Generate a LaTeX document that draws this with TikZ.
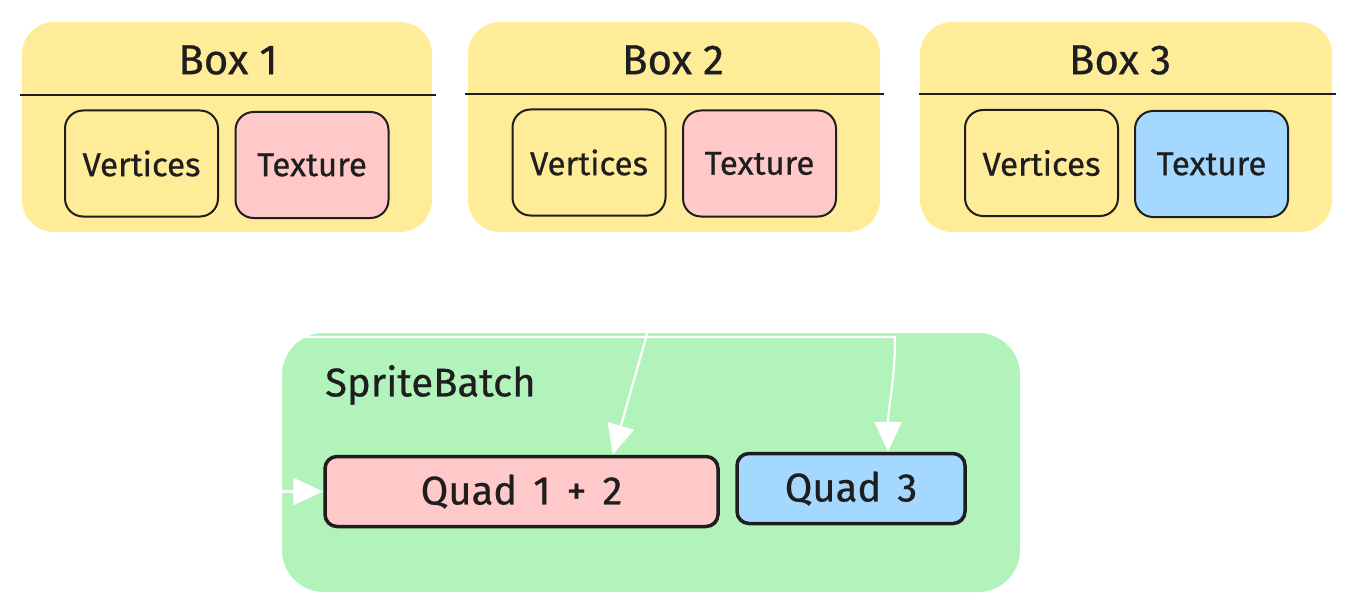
\documentclass[tikz,border=0pt]{standalone}
\usepackage{fontspec}
\setmainfont{Fira Sans}[FakeBold=0.6]
\usetikzlibrary{arrows.meta,calc}
\definecolor{ybox}{HTML}{FFEC99}
\definecolor{pinkf}{HTML}{FFC9C9}
\definecolor{bluef}{HTML}{A5D8FF}
\definecolor{greenf}{HTML}{B2F2BB}
\definecolor{ink}{HTML}{1E1E1E}
\tikzset{
  outerbox/.style={rectangle, fill=ybox, rounded corners=32pt, minimum width=410pt, minimum height=210pt, inner sep=0pt},
  titletext/.style={font=\fontsize{42}{48}\selectfont, text=ink, inner sep=0pt},
  sepline/.style={draw=ink, line width=1.6pt},
  itembox/.style={rectangle, draw=ink, line width=2pt, rounded corners=18pt, minimum width=153pt, minimum height=106pt, inner sep=0pt, font=\fontsize{33}{38}\selectfont, text=ink},
  quadbox/.style={rectangle, draw=ink, line width=3.5pt, rounded corners=12pt, minimum height=70pt, inner sep=0pt, font=\fontsize{40}{46}\selectfont, text=ink},
  wire/.style={draw=white, line width=2.2pt, -{Triangle[length=30pt,width=27pt,fill=white]}}
}
\begin{document}
\begin{tikzpicture}[x=1pt,y=-1pt]
\useasboundingbox (0,0) rectangle (1355,615);
% top boxes
\node[outerbox] (box1) at (227,127) {};
\node[outerbox, minimum width=412pt] (box2) at (674,127) {};
\node[outerbox, minimum width=412pt] (box3) at (1126,127) {};
\node[titletext] (t1) at (228,60) {Box 1};
\node[titletext] (t2) at (673,60) {Box 2};
\node[titletext] (t3) at (1120,60) {Box 3};
\draw[sepline] (20,95) -- (436,95);
\draw[sepline] (465,94) -- (884,94);
\draw[sepline] (919,94) -- (1336,94);
\node[itembox, fill=ybox] (v1) at (141.5,163.5) {Vertices};
\node[itembox, fill=pinkf] (x1) at (312,165) {Texture};
\node[itembox, fill=ybox] (v2) at (589,162.5) {Vertices};
\node[itembox, fill=pinkf] (x2) at (759.5,163.5) {Texture};
\node[itembox, fill=ybox] (v3) at (1041.5,163) {Vertices};
\node[itembox, fill=bluef] (x3) at (1211.5,164) {Texture};
% sprite batch
\node[rectangle, fill=greenf, rounded corners=42pt, minimum width=738pt, minimum height=259pt, inner sep=0pt] (sb) at (651,462.5) {};
\node[anchor=west, font=\fontsize{40}{46}\selectfont, text=ink, inner sep=0pt] (sbl) at (325,385) {SpriteBatch};
\node[quadbox, fill=pinkf, minimum width=393pt] (q12) at (521.5,491.5) {Quad\hspace{16pt}1\hspace{16pt}+\hspace{16pt}2};
\node[quadbox, fill=bluef, minimum width=228pt] (q3) at (851,488.5) {Quad\hspace{16pt}3};
% white connectors
\coordinate (s1) at (220,232);
\coordinate (s2) at (676,232);
\coordinate (e12) at ($(q12.north west)!0.73!(q12.north east)$);
\coordinate (e3) at ($(q3.north west)!0.66!(q3.north east)$);
\coordinate (k3) at (895,337);
\draw[wire] (s1) |- (q12.west);
\draw[wire] (s2) -- (e12);
\draw[wire] (s1) |- (k3) to[out=-90,in=90] (e3);
\end{tikzpicture}
\end{document}
